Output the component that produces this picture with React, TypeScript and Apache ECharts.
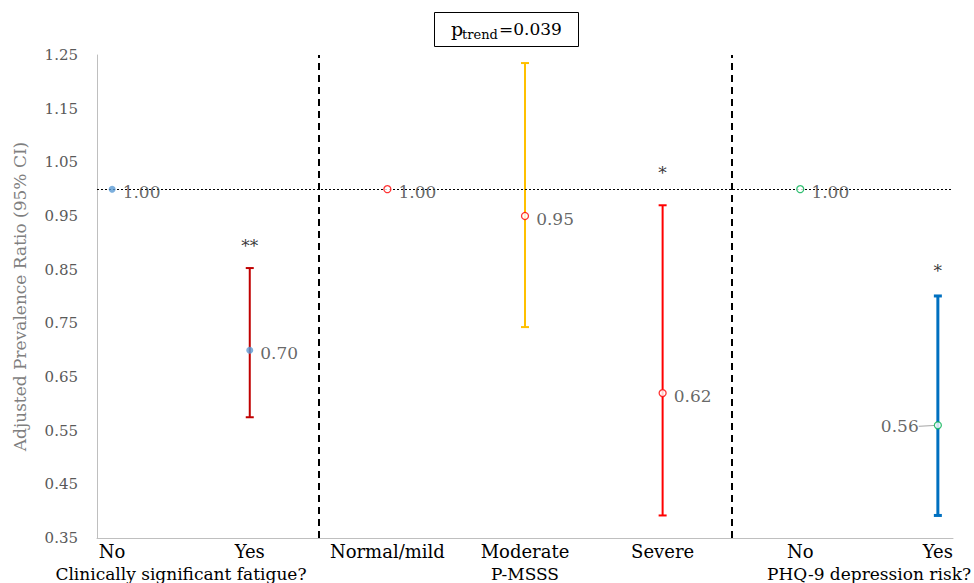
import React, { useEffect, useRef } from "react";
import * as echarts from "echarts";

const categories = ["No", "Yes", "Normal/mild", "Moderate", "Severe", "No", "Yes"];
const positions = [1, 2, 3, 4, 5, 6, 7];
const groups = ["Clinically significant fatigue?", "P-MSSS", "PHQ-9 depression risk?"];
const groupCenters = [1.5, 4, 6.5];
const estimates = [1.0, 0.7, 1.0, 0.95, 0.62, 1.0, 0.56];
const ciLower: (number | null)[] = [null, 0.575, null, 0.743, 0.392, null, 0.392];
const ciUpper: (number | null)[] = [null, 0.853, null, 1.235, 0.97, null, 0.801];
const significance = ["", "**", "", "", "*", "", "*"];
const significanceY = [0, 0.895, 0, 0, 1.03, 0, 0.848];
const dividers = [2.5, 5.5];
const referenceValue = 1.0;
const yTicks = [0.35, 0.45, 0.55, 0.65, 0.75, 0.85, 0.95, 1.05, 1.15, 1.25];

const markerColors = ["#5b9bd5", "#5b9bd5", "#ff0000", "#ff0000", "#ff0000", "#00b050", "#00b050"];
const markerFilled = [true, true, false, false, false, false, false];
const labelOnLeft = [false, false, false, false, false, false, true];
const ciColors = ["", "#c00000", "", "#ffc000", "#ff0000", "", "#0070c0"];
const ciWidths = [0, 2, 0, 2, 2, 0, 3];

const FONT = "DejaVu Serif";

export default function App() {
  const ref = useRef<HTMLDivElement>(null);
  useEffect(() => {
    if (!ref.current) return;
    const chart = echarts.init(ref.current, undefined, { renderer: "svg" });

    const pointData = positions.map((x, i) => ({
      value: [x, estimates[i]],
      symbolSize: 7,
      itemStyle: markerFilled[i]
        ? { color: markerColors[i], borderWidth: 0 }
        : { color: "#ffffff", borderColor: markerColors[i], borderWidth: 1.3 },
      label: labelOnLeft[i]
        ? { show: true, position: "left", distance: 4, formatter: estimates[i].toFixed(2) }
        : { show: true, position: "right", distance: 7, formatter: estimates[i].toFixed(2) },
      labelLine: labelOnLeft[i]
        ? { show: true, length2: 0, smooth: false, lineStyle: { color: "#a6a6a6", width: 1 } }
        : { show: false },
    }));

    const ciData = positions
      .map((x, i) => ({ x, i }))
      .filter((d) => ciLower[d.i] !== null)
      .map((d) => ({ value: [d.x, ciLower[d.i], ciUpper[d.i], d.i] }));

    const sigData = positions
      .map((x, i) => ({ x, i }))
      .filter((d) => significance[d.i] !== "")
      .map((d) => ({ value: [d.x, significanceY[d.i]], name: significance[d.i] }));

    const option: any = {
      animation: false,
      backgroundColor: "#ffffff",
      textStyle: { fontFamily: FONT },
      grid: { left: 97, right: 21, top: 55, bottom: 45, containLabel: false, outerBoundsMode: "none" },
      xAxis: [
        {
          type: "value",
          min: 0.89,
          max: 7.11,
          axisLine: { show: true, lineStyle: { color: "#bfbfbf", width: 1 } },
          axisTick: { show: false },
          splitLine: { show: false },
          axisLabel: {
            customValues: positions,
            margin: 4,
            fontFamily: FONT,
            fontSize: 18,
            color: "#000000",
            formatter: (v: number) => categories[Math.round(v) - 1] ?? "",
          },
        },
        {
          type: "value",
          min: 0.89,
          max: 7.11,
          position: "bottom",
          offset: 23,
          axisLine: { show: false },
          axisTick: { show: false },
          splitLine: { show: false },
          axisLabel: {
            customValues: groupCenters,
            margin: 4,
            fontFamily: FONT,
            fontSize: 17,
            color: "#000000",
            formatter: (v: number) => {
              const idx = groupCenters.findIndex((c) => Math.abs(c - v) < 1e-6);
              return idx >= 0 ? groups[idx] : "";
            },
          },
        },
      ],
      yAxis: {
        type: "value",
        min: 0.35,
        max: 1.25,
        name: "Adjusted Prevalence Ratio (95% CI)",
        nameLocation: "middle",
        nameGap: 69,
        nameTextStyle: { fontFamily: FONT, fontSize: 17, color: "#7f7f7f" },
        axisLine: { show: true, lineStyle: { color: "#bfbfbf", width: 1 } },
        axisTick: { show: false },
        splitLine: { show: false },
        axisLabel: {
          customValues: yTicks,
          margin: 19,
          fontFamily: FONT,
          fontSize: 15,
          color: "#595959",
          formatter: (v: number) => v.toFixed(2),
        },
      },
      series: [
        {
          type: "custom",
          name: "ci",
          z: 2,
          renderItem: (params: any, api: any) => {
            const x = api.value(0);
            const lo = api.value(1);
            const hi = api.value(2);
            const idx = api.value(3);
            const p1 = api.coord([x, lo]);
            const p2 = api.coord([x, hi]);
            const color = ciColors[idx];
            const w = ciWidths[idx];
            const cap = 4;
            const style = { stroke: color, lineWidth: w };
            return {
              type: "group",
              children: [
                { type: "line", shape: { x1: p1[0], y1: p1[1], x2: p2[0], y2: p2[1] }, style },
                { type: "line", shape: { x1: p1[0] - cap, y1: p1[1], x2: p1[0] + cap, y2: p1[1] }, style },
                { type: "line", shape: { x1: p2[0] - cap, y1: p2[1], x2: p2[0] + cap, y2: p2[1] }, style },
              ],
            };
          },
          encode: { x: 0, y: 1 },
          data: ciData,
          markLine: {
            silent: true,
            symbol: "none",
            label: { show: false },
            data: [
              {
                yAxis: referenceValue,
                lineStyle: { color: "#000000", type: [2, 2], width: 1 },
              },
              ...dividers.map((d) => ({
                xAxis: d,
                lineStyle: { color: "#000000", type: [7, 5], width: 2 },
              })),
            ],
          },
        },
        {
          type: "scatter",
          name: "estimates",
          z: 5,
          symbol: "circle",
          data: pointData,
          label: {
            fontFamily: FONT,
            fontSize: 17,
            color: "#404040",
          },
          labelLayout: (params: any) =>
            labelOnLeft[params.dataIndex] ? { dx: -11, dy: 1 } : { dy: 3 },
        },
        {
          type: "scatter",
          name: "significance",
          z: 6,
          symbolSize: 1,
          itemStyle: { color: "transparent" },
          data: sigData,
          label: {
            show: true,
            position: "inside",
            formatter: (p: any) => p.name,
            fontFamily: FONT,
            fontSize: 17,
            color: "#000000",
          },
        },
      ],
      graphic: [
        {
          type: "rect",
          left: 434,
          top: 12,
          shape: { width: 144, height: 34 },
          style: { fill: "#ffffff", stroke: "#000000", lineWidth: 1 },
        },
        {
          type: "text",
          x: 451,
          y: 29,
          style: { text: "p", font: `19px "${FONT}"`, fill: "#000000", textVerticalAlign: "middle" },
        },
        {
          type: "text",
          x: 462,
          y: 34,
          style: { text: "trend", font: `13px "${FONT}"`, fill: "#000000", textVerticalAlign: "middle" },
        },
        {
          type: "text",
          x: 499,
          y: 29,
          style: { text: "=0.039", font: `17px "${FONT}"`, fill: "#000000", textVerticalAlign: "middle" },
        },
      ],
    };

    chart.setOption(option);
    return () => chart.dispose();
  }, []);

  return <div ref={ref} style={{ width: 974, height: 583, position: "fixed", left: 0, top: 0 }} />;
}
